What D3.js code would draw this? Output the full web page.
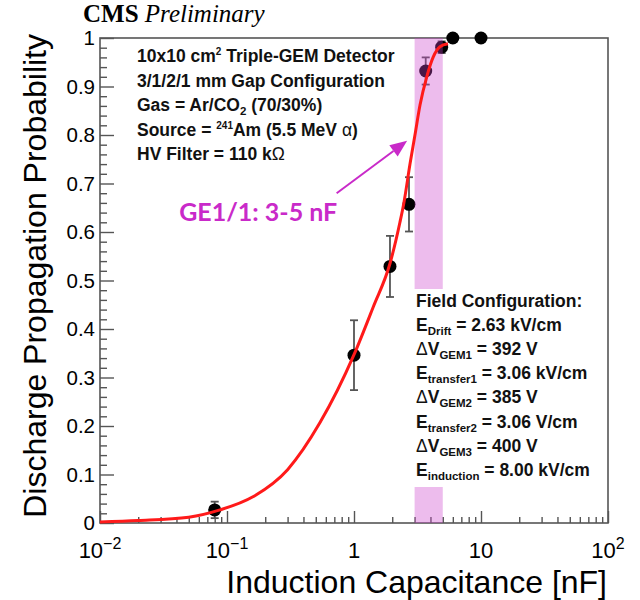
<!DOCTYPE html>
<html>
<head>
<meta charset="utf-8">
<script src="https://cdn.jsdelivr.net/npm/d3@7"></script>
<style>
  body { margin: 0; background: #fff; }
</style>
</head>
<body>
<div id="chart"></div>
<script>
// measured points
const capacitance = [0.08, 1, 1.92, 2.71, 3.67, 4.9, 6, 10];
const probability = [0.027, 0.346, 0.529, 0.657, 0.932, 0.981, 1.0, 1.0];
const probError   = [0.017, 0.072, 0.063, 0.056, 0.028, 0.012, 0, 0];

// fit curve
const fitCap  = [0.01, 0.02, 0.05, 0.088, 0.16, 0.3, 0.54, 1, 1.42, 1.92, 2.3, 2.47, 2.76, 3.02, 3.31, 3.74, 4.21, 4.75, 5.5];
const fitProb = [0.002, 0.005, 0.012, 0.027, 0.054, 0.11, 0.207, 0.347, 0.446, 0.535, 0.62, 0.66, 0.74, 0.80, 0.862, 0.92, 0.961, 0.982, 0.988];

// GE1/1 band
const bandRange = [3, 5];

const xMajor = [0.01, 0.1, 1, 10, 100];
const xTickBase = ['10', '10', '1', '10', '10'];
const xTickExp  = ['\u22122', '\u22121', '', '', '2'];
const yMajor = [0, 0.1, 0.2, 0.3, 0.4, 0.5, 0.6, 0.7, 0.8, 0.9, 1];
const yTickLabels = ['0', '0.1', '0.2', '0.3', '0.4', '0.5', '0.6', '0.7', '0.8', '0.9', '1'];

const infoLines = [
  [{t: '10x10 cm'}, {t: '2', sup: 1}, {t: ' Triple-GEM Detector'}],
  [{t: '3/1/2/1 mm Gap Configuration'}],
  [{t: 'Gas = Ar/CO'}, {t: '2', sub: 1}, {t: ' (70/30%)'}],
  [{t: 'Source = '}, {t: '241', sup: 1}, {t: 'Am (5.5 MeV '}, {t: '\u03B1', plain: 1}, {t: ')'}],
  [{t: 'HV Filter = 110 k'}, {t: '\u03A9', plain: 1}]
];

const fieldLines = [
  [{t: 'Field Configuration:'}],
  [{t: 'E'}, {t: 'Drift', sub: 1}, {t: ' = 2.63 kV/cm'}],
  [{t: '\u0394', plain: 1}, {t: 'V'}, {t: 'GEM1', sub: 1}, {t: ' = 392 V'}],
  [{t: 'E'}, {t: 'transfer1', sub: 1}, {t: ' = 3.06 kV/cm'}],
  [{t: '\u0394', plain: 1}, {t: 'V'}, {t: 'GEM2', sub: 1}, {t: ' = 385 V'}],
  [{t: 'E'}, {t: 'transfer2', sub: 1}, {t: ' = 3.06 V/cm'}],
  [{t: '\u0394', plain: 1}, {t: 'V'}, {t: 'GEM3', sub: 1}, {t: ' = 400 V'}],
  [{t: 'E'}, {t: 'induction', sub: 1}, {t: ' = 8.00 kV/cm'}]
];

const W = 640, H = 600;
const plotLeft = 100, plotRight = 608, plotTop = 38, plotBottom = 523;

const svg = d3.select('#chart').append('svg')
  .attr('width', W)
  .attr('height', H)
  .style('font-family', "'Liberation Sans', Arial, Helvetica, sans-serif");

const x = d3.scaleLog().domain([0.01, 100]).range([plotLeft, plotRight]);
const y = d3.scaleLinear().domain([0, 1]).range([plotBottom, plotTop]);

const isMajorX = (v) => Math.abs(Math.log10(v) - Math.round(Math.log10(v))) < 1e-9;
const isMajorY = (v) => Math.abs(v * 10 - Math.round(v * 10)) < 1e-9;

// frame
svg.append('rect')
  .attr('x', plotLeft).attr('y', plotTop)
  .attr('width', plotRight - plotLeft).attr('height', plotBottom - plotTop)
  .attr('fill', 'none')
  .attr('stroke', '#555')
  .attr('stroke-width', 1.6);

// ticks (inward, ROOT style)
const tickGroups = [];
tickGroups.push(svg.append('g').attr('transform', `translate(0,${plotBottom})`)
  .call(d3.axisBottom(x).tickValues(xMajor).tickSize(-12).tickSizeOuter(0).tickFormat('')));
tickGroups.push(svg.append('g').attr('transform', `translate(0,${plotBottom})`)
  .call(d3.axisBottom(x).tickValues(x.ticks().filter(v => !isMajorX(v))).tickSize(-6).tickSizeOuter(0).tickFormat('')));
tickGroups.push(svg.append('g').attr('transform', `translate(${plotLeft},0)`)
  .call(d3.axisLeft(y).tickValues(yMajor).tickSize(-14).tickSizeOuter(0).tickFormat('')));
tickGroups.push(svg.append('g').attr('transform', `translate(${plotLeft},0)`)
  .call(d3.axisLeft(y).tickValues(y.ticks(50).filter(v => !isMajorY(v))).tickSize(-7).tickSizeOuter(0).tickFormat('')));

tickGroups.forEach(g => {
  g.select('.domain').remove();
  g.selectAll('.tick line').attr('stroke', '#555').attr('stroke-width', 1.4);
});

// tick labels
const xLabels = svg.append('g')
  .selectAll('text')
  .data(xMajor)
  .enter()
  .append('text')
  .attr('x', d => x(d))
  .attr('y', 558)
  .attr('text-anchor', 'middle')
  .attr('font-size', 22)
  .attr('fill', '#000');
xLabels.append('tspan').text((d, i) => xTickBase[i]);
xLabels.append('tspan')
  .attr('dy', -9)
  .attr('font-size', 16)
  .text((d, i) => xTickExp[i]);

svg.append('g')
  .selectAll('text')
  .data(yMajor)
  .enter()
  .append('text')
  .attr('x', 95)
  .attr('y', d => y(d))
  .attr('dy', '0.36em')
  .attr('text-anchor', 'end')
  .attr('font-size', 20.5)
  .text((d, i) => yTickLabels[i]);

// axis titles
svg.append('text')
  .attr('x', 607)
  .attr('y', 593)
  .attr('text-anchor', 'end')
  .attr('font-size', 32)
  .text('Induction Capacitance [nF]');

svg.append('text')
  .attr('transform', `translate(46, ${plotTop - 4}) rotate(-90)`)
  .attr('text-anchor', 'end')
  .attr('font-size', 32)
  .text('Discharge Propagation Probability');

// CMS label
const cms = svg.append('text')
  .attr('x', 83)
  .attr('y', 21.5)
  .attr('font-family', "'Liberation Serif', 'Times New Roman', serif")
  .attr('font-size', 25);
cms.append('tspan').attr('font-weight', 'bold').text('CMS ');
cms.append('tspan').attr('font-style', 'italic').text('Preliminary');

// data points with error bars
const pts = capacitance.map((c, i) => ({c: c, p: probability[i], e: probError[i]}));

const errG = svg.append('g')
  .selectAll('g')
  .data(pts.filter(d => d.e > 0))
  .enter()
  .append('g')
  .attr('stroke', '#555')
  .attr('stroke-width', 1.8);
errG.append('line')
  .attr('x1', d => x(d.c)).attr('x2', d => x(d.c))
  .attr('y1', d => y(d.p - d.e)).attr('y2', d => y(d.p + d.e));
errG.append('line')
  .attr('x1', d => x(d.c) - 4).attr('x2', d => x(d.c) + 4)
  .attr('y1', d => y(d.p - d.e)).attr('y2', d => y(d.p - d.e));
errG.append('line')
  .attr('x1', d => x(d.c) - 4).attr('x2', d => x(d.c) + 4)
  .attr('y1', d => y(d.p + d.e)).attr('y2', d => y(d.p + d.e));

svg.append('g')
  .selectAll('circle')
  .data(pts)
  .enter()
  .append('circle')
  .attr('cx', d => x(d.c))
  .attr('cy', d => y(d.p))
  .attr('r', 6.5)
  .attr('fill', '#000');

// GE1/1 band on top of points (semi-transparent)
svg.append('rect')
  .attr('x', x(bandRange[0]))
  .attr('y', y(1))
  .attr('width', x(bandRange[1]) - x(bandRange[0]))
  .attr('height', y(0) - y(1))
  .attr('fill', '#cb40cb')
  .attr('opacity', 0.35);

// fit curve
const fitLine = d3.line()
  .x(d => x(d[0]))
  .y(d => y(d[1]))
  .curve(d3.curveMonotoneX);

svg.append('path')
  .datum(fitCap.map((c, i) => [c, fitProb[i]]))
  .attr('d', fitLine)
  .attr('fill', 'none')
  .attr('stroke', '#ff1a1a')
  .attr('stroke-width', 3);

// text blocks
function richLine(g, xPos, yPos, parts, size) {
  const t = g.append('text')
    .attr('x', xPos)
    .attr('y', yPos)
    .attr('font-size', size)
    .attr('font-weight', 'bold')
    .attr('fill', '#111');
  let shift = 0;
  parts.forEach(p => {
    const target = p.sub ? 4 : (p.sup ? -7 : 0);
    const span = t.append('tspan').text(p.t).attr('dy', target - shift);
    shift = target;
    if (p.sub) span.attr('font-size', 11.5);
    if (p.sup) span.attr('font-size', 10);
    if (p.plain) span.attr('font-weight', 'normal');
  });
}

const info = svg.append('g');
infoLines.forEach((line, i) => richLine(info, 137, 62 + i * 24.5, line, 17.5));

const field = svg.append('g');
field.append('rect')
  .attr('x', 412).attr('y', 289)
  .attr('width', 194).attr('height', 198)
  .attr('fill', '#fff');
fieldLines.forEach((line, i) => richLine(field, 416, 307 + i * 24.1, line, 17.5));

// annotation
const annoColor = '#c92ac9';
const arrowFrom = [0.73, 0.68];
const arrowTo = [2.62, 0.788];

const ax1 = x(arrowFrom[0]), ay1 = y(arrowFrom[1]);
const ax2 = x(arrowTo[0]), ay2 = y(arrowTo[1]);
const ang = Math.atan2(ay2 - ay1, ax2 - ax1);
const headLen = 17, headW = 7;
const bx = ax2 - headLen * Math.cos(ang), by = ay2 - headLen * Math.sin(ang);

svg.append('line')
  .attr('x1', ax1).attr('y1', ay1)
  .attr('x2', bx).attr('y2', by)
  .attr('stroke', annoColor)
  .attr('stroke-width', 2);

svg.append('polygon')
  .attr('points', [
    [ax2, ay2],
    [bx + headW * Math.sin(ang), by - headW * Math.cos(ang)],
    [bx - headW * Math.sin(ang), by + headW * Math.cos(ang)]
  ].map(p => p.join(',')).join(' '))
  .attr('fill', annoColor);

svg.append('text')
  .attr('x', x(0.042))
  .attr('y', 221)
  .attr('font-family', "Lato, 'Open Sans', sans-serif")
  .attr('font-weight', 'bold')
  .attr('font-size', 25)
  .attr('fill', annoColor)
  .text('GE1/1: 3-5 nF');
</script>
</body>
</html>
